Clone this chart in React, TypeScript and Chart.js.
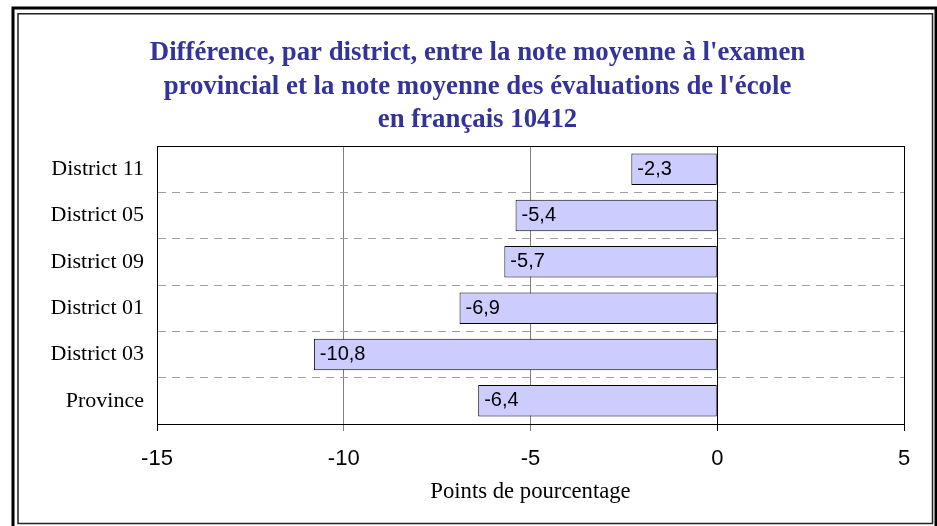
import React, { useEffect, useRef } from 'react';
import { Chart, registerables } from 'chart.js';

Chart.register(...registerables);

const categories = ['District 11', 'District 05', 'District 09', 'District 01', 'District 03', 'Province'];
const values = [-2.3, -5.4, -5.7, -6.9, -10.8, -6.4];
const titleLines = [
  "Différence, par district, entre la note moyenne à l'examen",
  "provincial et la note moyenne des évaluations de l'école",
  'en français 10412',
];
const xAxisTitle = 'Points de pourcentage';
const xMin = -15;
const xMax = 5;
const xStep = 5;

const SERIF = '"Liberation Serif", "Times New Roman", serif';
const SANS = '"Liberation Sans", Arial, sans-serif';

const fmt = (v: number) => v.toFixed(1).replace('.', ',');

const framePlugin = {
  id: 'frame',
  beforeDraw(chart: any) {
    const ctx = chart.ctx;
    ctx.save();
    ctx.fillStyle = '#ffffff';
    ctx.fillRect(0, 0, chart.width, chart.height);
    ctx.strokeStyle = '#000000';
    ctx.lineWidth = 3;
    ctx.strokeRect(13, 8, 923, 530);
    ctx.lineWidth = 1.5;
    ctx.strokeStyle = '#222222';
    ctx.strokeRect(18, 13.75, 914.5, 509.75);
    ctx.restore();
  },
  afterDraw(chart: any) {
    const ctx = chart.ctx;
    ctx.save();
    ctx.fillStyle = '#333399';
    ctx.font = `bold 26.8px ${SERIF}`;
    ctx.textAlign = 'center';
    ctx.textBaseline = 'alphabetic';
    const baselines = [59.5, 93.5, 126.5];
    titleLines.forEach((line, i) => ctx.fillText(line, 477.5, baselines[i]));
    ctx.restore();
  },
  afterDatasetsDraw(chart: any) {
    const ctx = chart.ctx;
    const { left, top, right, bottom } = chart.chartArea;
    ctx.save();
    ctx.strokeStyle = '#000000';
    ctx.lineWidth = 1;
    ctx.beginPath();
    ctx.moveTo(Math.round(left) + 0.5, Math.round(bottom));
    ctx.lineTo(Math.round(left) + 0.5, Math.round(top) + 0.5);
    ctx.lineTo(Math.round(right) + 0.5, Math.round(top) + 0.5);
    ctx.lineTo(Math.round(right) + 0.5, Math.round(bottom));
    ctx.stroke();
    const meta = chart.getDatasetMeta(0);
    ctx.fillStyle = '#000000';
    ctx.font = `20px ${SANS}`;
    ctx.textAlign = 'left';
    ctx.textBaseline = 'middle';
    meta.data.forEach((el: any, i: number) => {
      const p = el.getProps(['x', 'y', 'base'], true);
      const l = Math.min(p.x, p.base);
      ctx.fillText(fmt(values[i]), l + 6, p.y);
    });
    ctx.restore();
  },
};

export default function App() {
  const ref = useRef<HTMLCanvasElement | null>(null);
  useEffect(() => {
    if (!ref.current) return;
    const chart = new Chart(ref.current, {
      type: 'bar',
      data: {
        labels: categories,
        datasets: [
          {
            data: values,
            backgroundColor: '#CCCCFF',
            borderColor: '#000000',
            borderWidth: 1,
            borderSkipped: false,
            barPercentage: 0.68,
            categoryPercentage: 1,
          },
        ],
      },
      options: {
        indexAxis: 'y',
        animation: false,
        responsive: false,
        devicePixelRatio: 1,
        layout: { padding: { top: 146, left: 17, right: 33, bottom: 0 } },
        plugins: { legend: { display: false }, tooltip: { enabled: false }, title: { display: false } },
        scales: {
          x: {
            type: 'linear',
            min: xMin,
            max: xMax,
            ticks: { stepSize: xStep, color: '#000', font: { family: SANS, size: 22 }, padding: 15 },
            grid: {
              color: (c: any) => {
                const v = c.tick ? c.tick.value : 0;
                return v === 0 || v === xMin || v === xMax ? '#000000' : '#808080';
              },
              lineWidth: 1,
              tickLength: 7,
            },
            border: { display: true, color: '#000000', width: 1 },
            title: {
              display: true,
              text: xAxisTitle,
              color: '#000',
              font: { family: SERIF, size: 22.7 },
              padding: { top: 0, bottom: 20 },
            },
            afterFit: (s: any) => {
              s.height = 102;
            },
          },
          y: {
            type: 'category',
            ticks: { color: '#000', font: { family: SERIF, size: 22 }, padding: 13 },
            grid: { color: '#a0a0a0', lineWidth: 1, drawTicks: false, offset: true },
            border: { display: true, color: '#000000', width: 1, dash: [8, 6] },
            afterFit: (s: any) => {
              s.width = 140;
            },
          },
        },
      },
      plugins: [framePlugin],
    });
    return () => chart.destroy();
  }, []);
  return (
    <div style={{ position: 'absolute', left: 0, top: 0, width: 937, height: 526 }}>
      <canvas ref={ref} width={937} height={526} />
    </div>
  );
}
